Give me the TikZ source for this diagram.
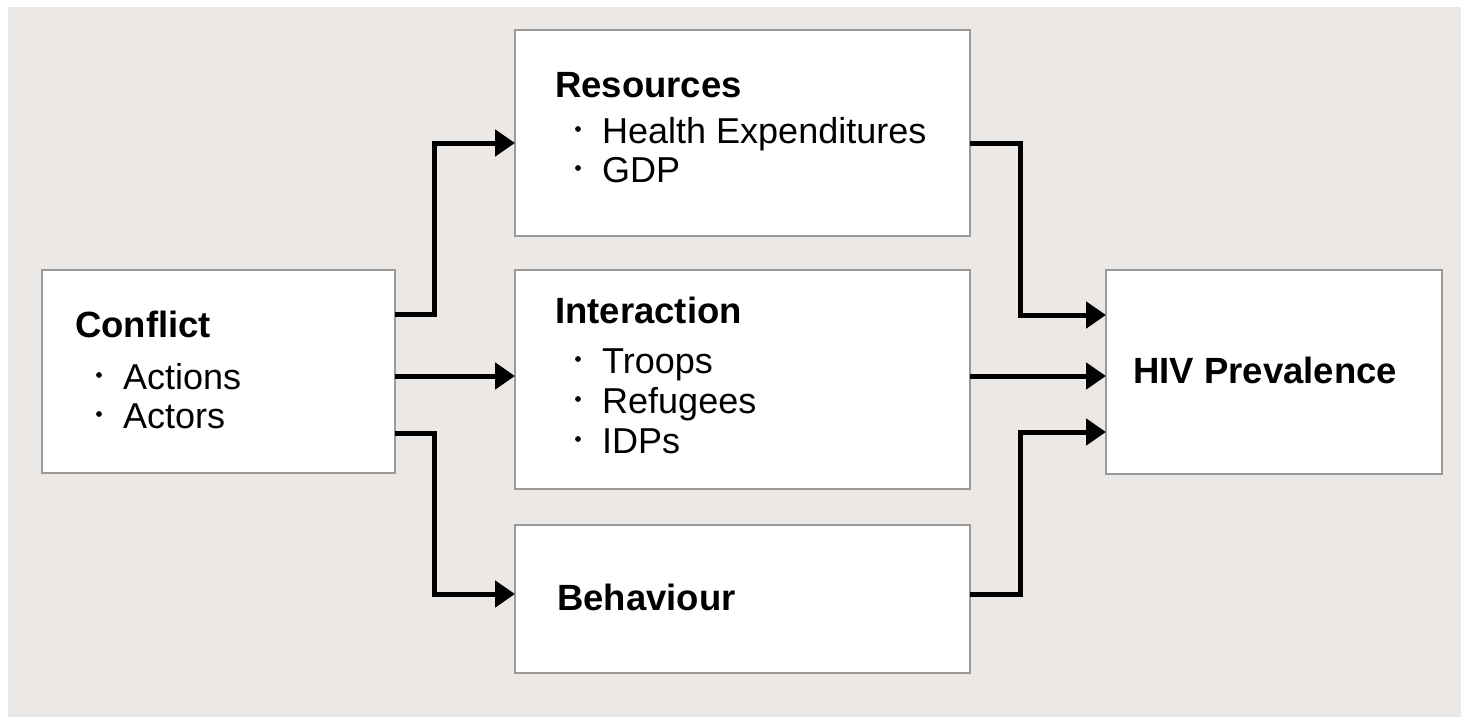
\documentclass[tikz,border=0pt]{standalone}
\usepackage{fontspec}
\setmainfont{Liberation Sans}
\usetikzlibrary{arrows.meta}
\definecolor{bg}{HTML}{EBE8E5}
\definecolor{edgegray}{HTML}{9A9A9A}
\begin{document}
\begin{tikzpicture}[x=1pt,y=-1pt,
  box/.style={draw=edgegray,line width=1.6pt,fill=white,rectangle,inner sep=0pt,outer sep=0pt,anchor=north west},
  ttl/.style={anchor=base west,inner sep=0pt,font=\fontsize{36.5}{40}\selectfont\bfseries},
  itm/.style={anchor=base west,inner sep=0pt,font=\fontsize{36}{40}\selectfont},
  dot/.style={fill=black},
  arr/.style={line width=5pt,line join=miter,-{Triangle[length=20pt,width=26pt]}}]
\useasboundingbox (0,0) rectangle (1461,717);
\fill[white] (0,0) rectangle (1461,717);
\fill[bg] (8,7) rectangle (1461,717);
% boxes
\node[box,minimum width=353pt,minimum height=203pt] (conflict) at (42,270) {};
\node[box,minimum width=455pt,minimum height=206pt] (resources) at (515,30) {};
\node[box,minimum width=455pt,minimum height=219pt] (interaction) at (515,270) {};
\node[box,minimum width=455pt,minimum height=148pt] (behaviour) at (515,525) {};
\node[box,minimum width=336pt,minimum height=204pt] (hiv) at (1106,270) {};
% texts
\node[ttl] (conflictT) at (75,337) {Conflict};
\node[itm] (conflict1) at (123,389) {Actions};
\node[itm] (conflict2) at (123,428) {Actors};
\node[ttl] (resourcesT) at (555,97) {Resources};
\node[itm] (resources1) at (602,143) {Health Expenditures};
\node[itm] (resources2) at (602,182) {GDP};
\node[ttl] (interactionT) at (555,323) {Interaction};
\node[itm] (interaction1) at (602,373) {Troops};
\node[itm] (interaction2) at (602,413) {Refugees};
\node[itm] (interaction3) at (602,453) {IDPs};
\node[ttl] (behaviourT) at (557,610) {Behaviour};
\node[ttl] (hivT) at (1133,383) {HIV Prevalence};
% bullets
\foreach \p in {conflict1,conflict2,resources1,resources2,interaction1,interaction2,interaction3}
  \fill[dot] ([xshift=-24pt,yshift=14pt]\p.base west) circle (2.9pt);
% connectors
\draw[arr] ([yshift=-44pt]conflict.north east) -| ++(39,-171) -- ([yshift=-10pt]resources.west);
\draw[arr] ([yshift=-106pt]conflict.north east) -- ++(120,0);
\draw[arr] ([yshift=-163pt]conflict.north east) -| ++(39,161) -- ([yshift=5pt]behaviour.west);
\draw[arr] ([yshift=-10pt]resources.east) -| ++(50,172) -- ([yshift=57pt]hiv.west);
\draw[arr] ([yshift=-106pt]interaction.north east) -- ++(136,0);
\draw[arr] ([yshift=5pt]behaviour.east) -| ++(50,-162) -- ([yshift=-60pt]hiv.west);
\end{tikzpicture}
\end{document}
